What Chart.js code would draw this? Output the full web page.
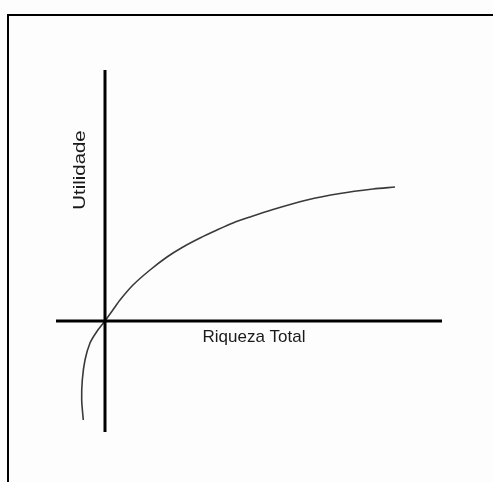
<!DOCTYPE html>
<html>
<head>
<meta charset="utf-8">
<script src="https://cdn.jsdelivr.net/npm/chart.js@4.4.0/dist/chart.umd.min.js"></script>
<style>
  body { margin: 0; background: #fdfdfd; }
  #wrap { position: relative; width: 493px; height: 482px; }
  #frame {
    position: absolute; left: 7px; top: 14px; right: 0; bottom: 0;
    border-left: 2px solid #000; border-top: 2px solid #000;
    pointer-events: none;
  }
  canvas { position: absolute; left: 0; top: 0; }
</style>
</head>
<body>
<div id="wrap">
  <canvas id="myChart" width="493" height="482"></canvas>
  <div id="frame"></div>
</div>
<script>
// utility curve, wealth on x, utility on y
const wealth  = [-2.17, -2.33, -2.27, -2.0, -1.5, -0.83, 0, 0.8, 1.5, 2.8, 4.5, 6.2, 7.8, 9.5, 11.2, 12.8, 14.5, 16.8, 20.2, 23.5, 26.8, 29.0];
const utility = [-9.9, -7.9, -5.9, -3.9, -2.2, -1.07, 0, 1.12, 2.1, 3.6, 5.1, 6.4, 7.4, 8.3, 9.1, 9.8, 10.4, 11.15, 12.1, 12.75, 13.2, 13.4];

// axis extents
const xAxisRange = [-4.9, 33.7];
const yAxisRange = [-11.1, 25.1];

const xLabel = 'Riqueza Total';
const yLabel = 'Utilidade';

const labelsPlugin = {
    id: 'axisLabels',
    afterDraw(chart) {
        const ctx = chart.ctx;
        const x = chart.scales.x, y = chart.scales.y;
        ctx.save();
        ctx.fillStyle = '#1a1a1a';
        ctx.font = '17px "Liberation Sans", Arial, sans-serif';
        ctx.textAlign = 'center';
        ctx.textBaseline = 'top';
        ctx.fillText(xLabel, x.getPixelForValue(14.9), y.getPixelForValue(-0.8));

        ctx.translate(x.getPixelForValue(-2.5), y.getPixelForValue(15.1));
        ctx.rotate(-Math.PI / 2);
        ctx.scale(1.2, 1);
        ctx.textBaseline = 'middle';
        ctx.fillText(yLabel, 0, 0);
        ctx.restore();
    }
};

const config = {
    type: 'scatter',
    data: {
        datasets: [
            {
                data: xAxisRange.map(v => ({x: v, y: 0})),
                showLine: true,
                borderColor: '#000',
                borderWidth: 3,
                pointRadius: 0
            },
            {
                data: yAxisRange.map(v => ({x: 0, y: v})),
                showLine: true,
                borderColor: '#000',
                borderWidth: 3,
                pointRadius: 0
            },
            {
                data: wealth.map((w, i) => ({x: w, y: utility[i]})),
                showLine: true,
                borderColor: '#3a3a3a',
                borderWidth: 1.6,
                tension: 0.3,
                pointRadius: 0
            }
        ]
    },
    options: {
        responsive: false,
        animation: false,
        layout: { padding: 0 },
        plugins: {
            legend: { display: false },
            tooltip: { enabled: false }
        },
        scales: {
            x: { type: 'linear', display: false, min: -10.5, max: 38.8 },
            y: { type: 'linear', display: false, min: -16.1, max: 32.1 }
        }
    },
    plugins: [labelsPlugin]
};

new Chart(document.getElementById('myChart'), config);
</script>
</body>
</html>
